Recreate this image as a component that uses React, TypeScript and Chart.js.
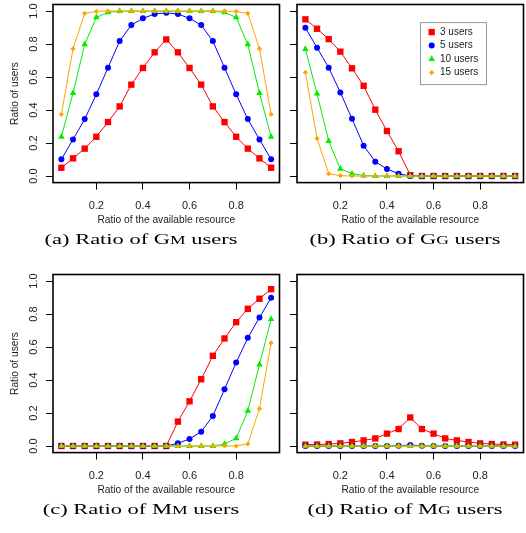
import React, { useEffect, useRef } from 'react';
import { Chart, registerables } from 'chart.js';
import { drawPoint } from 'chart.js/helpers';

Chart.register(...registerables);

// ---------- data ----------
const resourceRatio = [0.05, 0.1, 0.15, 0.2, 0.25, 0.3, 0.35, 0.4, 0.45, 0.5, 0.55, 0.6, 0.65, 0.7, 0.75, 0.8, 0.85, 0.9, 0.95];
const seriesNames = ['3 users', '5 users', '10 users', '15 users'];

// (a) GM users
const gm3 = [0.05, 0.107, 0.166, 0.238, 0.327, 0.422, 0.554, 0.655, 0.75, 0.828, 0.75, 0.655, 0.554, 0.422, 0.327, 0.238, 0.166, 0.107, 0.05];
const gm5 = [0.101, 0.222, 0.345, 0.495, 0.657, 0.818, 0.915, 0.956, 0.982, 0.99, 0.982, 0.956, 0.915, 0.818, 0.657, 0.495, 0.345, 0.222, 0.101];
const gm10 = [0.238, 0.503, 0.798, 0.962, 0.992, 1, 1, 1, 1, 1, 1, 1, 1, 1, 0.992, 0.962, 0.798, 0.503, 0.238];
const gm15 = [0.374, 0.772, 0.986, 0.998, 1, 1, 1, 1, 1, 1, 1, 1, 1, 1, 1, 0.998, 0.986, 0.772, 0.374];

// (b) GG users
const gg3 = [0.95, 0.893, 0.83, 0.754, 0.653, 0.547, 0.402, 0.273, 0.15, 0.005, 0, 0, 0, 0, 0, 0, 0, 0, 0];
const gg5 = [0.899, 0.778, 0.657, 0.507, 0.347, 0.184, 0.087, 0.042, 0.014, 0, 0, 0, 0, 0, 0, 0, 0, 0, 0];
const gg10 = [0.77, 0.499, 0.212, 0.044, 0.014, 0.003, 0, 0, 0, 0, 0, 0, 0, 0, 0, 0, 0, 0, 0];
const gg15 = [0.628, 0.228, 0.014, 0.002, 0, 0, 0, 0, 0, 0, 0, 0, 0, 0, 0, 0, 0, 0, 0];

// (c) MM users
const mm3 = [0, 0, 0, 0, 0, 0, 0, 0, 0, 0, 0.148, 0.271, 0.405, 0.547, 0.652, 0.751, 0.832, 0.893, 0.951];
const mm5 = [0, 0, 0, 0, 0, 0, 0, 0, 0, 0, 0.016, 0.043, 0.087, 0.182, 0.344, 0.506, 0.656, 0.779, 0.899];
const mm10 = [0, 0, 0, 0, 0, 0, 0, 0, 0, 0, 0, 0, 0, 0, 0.012, 0.047, 0.213, 0.494, 0.769];
const mm15 = [0, 0, 0, 0, 0, 0, 0, 0, 0, 0, 0, 0, 0, 0, 0, 0, 0.012, 0.227, 0.625];

// (d) MG users
const mg3 = [0.008, 0.009, 0.012, 0.016, 0.024, 0.034, 0.046, 0.075, 0.103, 0.173, 0.103, 0.075, 0.046, 0.034, 0.024, 0.016, 0.012, 0.009, 0.008];
const mg5 = [0, 0, 0, 0, 0, 0, 0, 0, 0.002, 0.006, 0.002, 0, 0, 0, 0, 0, 0, 0, 0];
const mg10 = [0, 0, 0, 0, 0, 0, 0, 0, 0, 0, 0, 0, 0, 0, 0, 0, 0, 0, 0];
const mg15 = [0, 0, 0, 0, 0, 0, 0, 0, 0, 0, 0, 0, 0, 0, 0, 0, 0, 0, 0];

const xTickValues = [0.2, 0.4, 0.6, 0.8];
const yTickValues = [0, 0.2, 0.4, 0.6, 0.8, 1.0];
const xAxisTitle = 'Ratio of the available resource';
const yAxisTitle = 'Ratio of users';

// ---------- styles ----------
const SERIES_STYLE = [
  { color: '#ff0000', pointStyle: 'rect', radius: 4.5 },
  { color: '#0000ff', pointStyle: 'circle', radius: 3 },
  { color: '#00ee00', pointStyle: 'triangle', radius: 3.8 },
  { color: '#ffa500', pointStyle: 'rectRot', radius: 2.6 },
];
const SANS = "'Liberation Sans', Arial, sans-serif";
const SERIF = "'Liberation Serif', 'Times New Roman', serif";
const TEXT_COLOR = '#222';

const Y_AXIS_W = 53;
const BOX_W = 228;
const BOX_H = 178.2;
const PAD_TOP = 4.4;
const CANVAS_W = 284;
const CANVAS_H = 232;

const boxPlugin = {
  id: 'rbox',
  beforeDatasetsDraw(chart: any) {
    const { ctx, chartArea: a } = chart;
    ctx.save();
    ctx.strokeStyle = '#000';
    ctx.lineWidth = 1.6;
    ctx.strokeRect(a.left, a.top, a.right - a.left, a.bottom - a.top);
    ctx.restore();
  },
};

const legendPlugin = {
  id: 'rlegend',
  afterDatasetsDraw(chart: any) {
    const { ctx, chartArea: a } = chart;
    const lx = a.left + 123;
    const ly = a.top + 17.6;
    const w = 66;
    const h = 62;
    ctx.save();
    ctx.fillStyle = '#fff';
    ctx.fillRect(lx, ly, w, h);
    ctx.strokeStyle = '#999';
    ctx.lineWidth = 1;
    ctx.strokeRect(lx + 0.5, ly + 0.5, w, h);
    chart.data.datasets.forEach((ds: any, i: number) => {
      const y = ly + 10 + i * 13.5;
      ctx.fillStyle = ds.backgroundColor;
      ctx.strokeStyle = ds.borderColor;
      drawPoint(ctx, { pointStyle: ds.pointStyle, radius: ds.pointRadius, borderWidth: 0, rotation: 0 } as any, lx + 11.7, y);
      ctx.fillStyle = TEXT_COLOR;
      ctx.font = `10px ${SANS}`;
      ctx.textAlign = 'left';
      ctx.textBaseline = 'middle';
      ctx.fillText(ds.label, lx + 20, y);
    });
    ctx.restore();
  },
};

type PanelProps = { left: number; top: number; series: number[][]; showYLabels: boolean; showLegend: boolean };

function Panel({ left, top, series, showYLabels, showLegend }: PanelProps) {
  const ref = useRef<HTMLCanvasElement | null>(null);
  useEffect(() => {
    if (!ref.current) return;
    const chart = new Chart(ref.current, {
      type: 'line',
      data: {
        datasets: series.map((vals, i) => ({
          label: seriesNames[i],
          data: resourceRatio.map((x, j) => ({ x, y: vals[j] })),
          borderColor: SERIES_STYLE[i].color,
          backgroundColor: SERIES_STYLE[i].color,
          borderWidth: 1,
          pointStyle: SERIES_STYLE[i].pointStyle as any,
          pointRadius: SERIES_STYLE[i].radius,
          pointBorderWidth: 0,
          pointBackgroundColor: SERIES_STYLE[i].color,
          tension: 0,
          fill: false,
          clip: false as any,
          order: 4 - i,
        })),
      },
      options: {
        animation: false,
        responsive: false,
        maintainAspectRatio: false,
        devicePixelRatio: 1,
        events: [],
        layout: { padding: { left: 0, top: PAD_TOP, right: CANVAS_W - Y_AXIS_W - BOX_W, bottom: 0 } },
        plugins: { legend: { display: false }, tooltip: { enabled: false } },
        scales: {
          x: {
            type: 'linear',
            min: 0.014,
            max: 0.986,
            afterBuildTicks: (s: any) => {
              s.ticks = xTickValues.map((v) => ({ value: v }));
            },
            afterFit: (s: any) => {
              s.height = CANVAS_H - PAD_TOP - BOX_H;
              s.paddingLeft = 0;
              s.paddingRight = 0;
            },
            grid: { drawOnChartArea: false, drawTicks: true, tickLength: 7, color: '#000', lineWidth: 1 },
            border: { display: false },
            ticks: {
              autoSkip: false,
              minRotation: 0,
              maxRotation: 0,
              padding: 10,
              color: TEXT_COLOR,
              font: { family: SANS, size: 11 },
              callback: (v: any) => Number(v).toFixed(1),
            },
            title: { display: true, text: xAxisTitle, color: TEXT_COLOR, font: { family: SANS, size: 10.2 }, padding: { top: 0, bottom: 6 } },
          },
          y: {
            type: 'linear',
            min: -0.04,
            max: 1.04,
            afterBuildTicks: (s: any) => {
              s.ticks = yTickValues.map((v) => ({ value: v }));
            },
            afterFit: (s: any) => {
              s.width = Y_AXIS_W;
              s.paddingTop = 0;
              s.paddingBottom = 0;
            },
            grid: { drawOnChartArea: false, drawTicks: true, tickLength: 7, color: '#000', lineWidth: 1 },
            border: { display: false },
            ticks: {
              display: showYLabels,
              autoSkip: false,
              minRotation: 90,
              maxRotation: 90,
              crossAlign: 'center',
              padding: 4,
              color: TEXT_COLOR,
              font: { family: SANS, size: 11 },
              callback: (v: any) => Number(v).toFixed(1),
            },
            title: { display: showYLabels, text: yAxisTitle, color: TEXT_COLOR, font: { family: SANS, size: 10.2 }, padding: { top: 9, bottom: 0 } },
          },
        },
      } as any,
      plugins: showLegend ? [boxPlugin, legendPlugin] : [boxPlugin],
    });
    return () => chart.destroy();
  }, []);
  return (
    <canvas
      ref={ref}
      width={CANVAS_W}
      height={CANVAS_H}
      style={{ position: 'absolute', left, top, width: CANVAS_W, height: CANVAS_H }}
    />
  );
}

function Caption({ cx, top, letter, first, second }: { cx: number; top: number; letter: string; first: string; second: string }) {
  return (
    <div
      style={{
        position: 'absolute',
        left: cx,
        top,
        transform: 'translateX(-50%) scaleX(1.45)',
        transformOrigin: 'center',
        whiteSpace: 'nowrap',
        fontFamily: SERIF,
        fontSize: 15.5,
        lineHeight: 1,
        color: '#000',
      }}
    >
      ({letter}) Ratio of {first}
      <span style={{ fontSize: '0.78em' }}>{second}</span> users
    </div>
  );
}

export default function App() {
  useEffect(() => {
    document.body.style.margin = '0';
  }, []);
  return (
    <div style={{ position: 'absolute', left: 0, top: 0, width: 526, height: 533, overflow: 'hidden', background: '#fff' }}>
      <Panel left={0} top={0} series={[gm3, gm5, gm10, gm15]} showYLabels={true} showLegend={false} />
      <Panel left={244} top={0} series={[gg3, gg5, gg10, gg15]} showYLabels={false} showLegend={true} />
      <Panel left={0} top={270} series={[mm3, mm5, mm10, mm15]} showYLabels={true} showLegend={false} />
      <Panel left={244} top={270} series={[mg3, mg5, mg10, mg15]} showYLabels={false} showLegend={false} />
      <Caption cx={141} top={231} letter="a" first="G" second="M" />
      <Caption cx={405} top={231} letter="b" first="G" second="G" />
      <Caption cx={141} top={501} letter="c" first="M" second="M" />
      <Caption cx={405} top={501} letter="d" first="M" second="G" />
    </div>
  );
}
